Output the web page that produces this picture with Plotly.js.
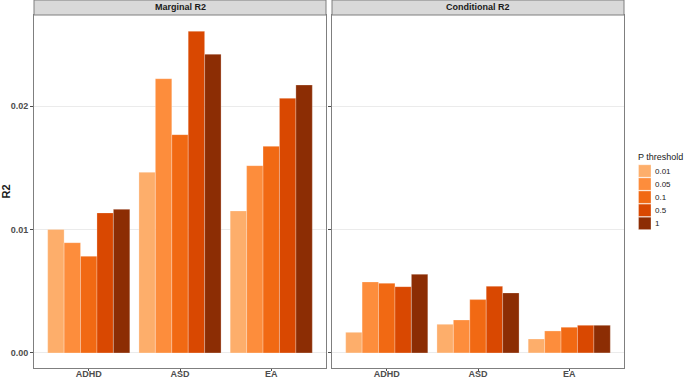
<!DOCTYPE html>
<html>
<head>
<meta charset="utf-8">
<script src="https://cdn.plot.ly/plotly-3.0.1.min.js"></script>
<style>html,body{margin:0;padding:0;background:#fff;}#chart{width:685px;height:380px;}</style>
</head>
<body>
<div id="chart"></div>
<script>
const categories = ['ADHD', 'ASD', 'EA'];
const thresholds = ['0.01', '0.05', '0.1', '0.5', '1'];
const colors = ['#FDAE6B', '#FD8D3C', '#F16913', '#D94801', '#8C2D04'];
const panelTitles = ['Marginal R2', 'Conditional R2'];
const legendTitle = 'P threshold';

// Marginal R2 per threshold (ADHD, ASD, EA)
const marginal_001 = [0.0100, 0.01463, 0.0115];
const marginal_005 = [0.00893, 0.02221, 0.01517];
const marginal_01  = [0.00783, 0.01768, 0.01673];
const marginal_05  = [0.01134, 0.02605, 0.02062];
const marginal_1   = [0.01163, 0.02419, 0.0217];

// Conditional R2 per threshold (ADHD, ASD, EA)
const conditional_001 = [0.00167, 0.00232, 0.00113];
const conditional_005 = [0.00575, 0.00267, 0.00178];
const conditional_01  = [0.00564, 0.00432, 0.00208];
const conditional_05  = [0.00537, 0.0054, 0.00224];
const conditional_1   = [0.00637, 0.00486, 0.00224];

const yTicks = [0, 0.01, 0.02];
const yTickText = ['0.00', '0.01', '0.02'];

const marginalSeries = [marginal_001, marginal_005, marginal_01, marginal_05, marginal_1];
const conditionalSeries = [conditional_001, conditional_005, conditional_01, conditional_05, conditional_1];

const FONT = 'Liberation Sans, Arial, Helvetica, sans-serif';
const traces = [];
thresholds.forEach((t, i) => {
  traces.push({
    type: 'bar', x: categories, y: marginalSeries[i], name: t,
    legendgroup: t, showlegend: false, xaxis: 'x', yaxis: 'y',
    marker: {color: colors[i], line: {color: 'rgba(255,255,255,0.5)', width: 0.5}},
    hoverinfo: 'skip'
  });
  traces.push({
    type: 'bar', x: categories, y: conditionalSeries[i], name: t,
    legendgroup: t, showlegend: false, xaxis: 'x2', yaxis: 'y2',
    marker: {color: colors[i], line: {color: 'rgba(255,255,255,0.5)', width: 0.5}},
    hoverinfo: 'skip'
  });
});

const W = 685, H = 380, ML = 34, MR = 61, MT = 15, MB = 12;
const PW = W - ML - MR, PH = H - MT - MB;
const px = v => (v - ML) / PW;
const py = v => (H - MB - v) / PH;

const yRange = [-0.00122, 0.02737];
const d1 = [0, 292 / PW];
const d2 = [298 / PW, 1];
const stripH = 15 / PH;

const xCommon = {
  type: 'category', range: [-0.6, 2.6], showgrid: false, zeroline: false,
  showline: true, linecolor: '#7F7F7F', linewidth: 1, mirror: true,
  ticks: 'outside', ticklen: 2, tickcolor: '#4D4D4D', tickwidth: 1,
  ticklabelstandoff: -5,
  tickfont: {family: FONT, size: 9, color: '#4D4D4D', weight: 'bold'}
};
const yCommon = {
  range: yRange, tickvals: yTicks, ticktext: yTickText,
  showgrid: true, gridcolor: '#EBEBEB', gridwidth: 1, zeroline: false,
  showline: true, linecolor: '#7F7F7F', linewidth: 1, mirror: true,
  ticks: 'outside', ticklen: 3, tickcolor: '#4D4D4D', tickwidth: 1,
  tickfont: {family: FONT, size: 9, color: '#4D4D4D', weight: 'bold'}
};

const shapes = [];
const annotations = [];
[d1, d2].forEach((d, i) => {
  shapes.push({type: 'rect', xref: 'paper', yref: 'paper', x0: d[0], x1: d[1], y0: 1, y1: 1 + stripH,
    fillcolor: '#D9D9D9', line: {color: '#7F7F7F', width: 1}, layer: 'above'});
  annotations.push({xref: 'paper', yref: 'paper', x: (d[0] + d[1]) / 2, y: 1 + stripH / 2,
    text: panelTitles[i], showarrow: false, xanchor: 'center', yanchor: 'middle',
    font: {family: FONT, size: 9, color: '#1A1A1A', weight: 'bold'}});
});

// Legend (drawn from thresholds and colors)
annotations.push({xref: 'paper', yref: 'paper', x: px(636), y: py(157), text: legendTitle,
  showarrow: false, xanchor: 'left', yanchor: 'middle',
  font: {family: FONT, size: 9, color: '#1A1A1A'}});
thresholds.forEach((t, i) => {
  const cy = 171 + i * 13.1;
  shapes.push({type: 'rect', xref: 'paper', yref: 'paper',
    x0: px(638.5), x1: px(651), y0: py(cy + 6.2), y1: py(cy - 6.2),
    fillcolor: colors[i], line: {color: 'rgba(255,255,255,0.6)', width: 0.5}});
  annotations.push({xref: 'paper', yref: 'paper', x: px(653), y: py(cy), text: t,
    showarrow: false, xanchor: 'left', yanchor: 'middle',
    font: {family: FONT, size: 8, color: '#1A1A1A'}});
});

const layout = {
  width: W, height: H,
  margin: {l: ML, r: MR, t: MT, b: MB},
  paper_bgcolor: '#FFFFFF', plot_bgcolor: '#FFFFFF',
  font: {family: FONT, size: 9, color: '#1A1A1A'},
  barmode: 'group', bargap: 0.1, bargroupgap: 0,
  xaxis: Object.assign({}, xCommon, {domain: d1, anchor: 'y'}),
  xaxis2: Object.assign({}, xCommon, {domain: d2, anchor: 'y2'}),
  yaxis: Object.assign({}, yCommon, {anchor: 'x',
    title: {text: 'R2', standoff: 4, font: {family: FONT, size: 11, color: '#1A1A1A', weight: 'bold'}}}),
  yaxis2: Object.assign({}, yCommon, {anchor: 'x2', matches: 'y', showticklabels: false}),
  shapes: shapes, annotations: annotations,
  showlegend: false
};

Plotly.newPlot('chart', traces, layout, {staticPlot: true, displayModeBar: false});
</script>
</body>
</html>
